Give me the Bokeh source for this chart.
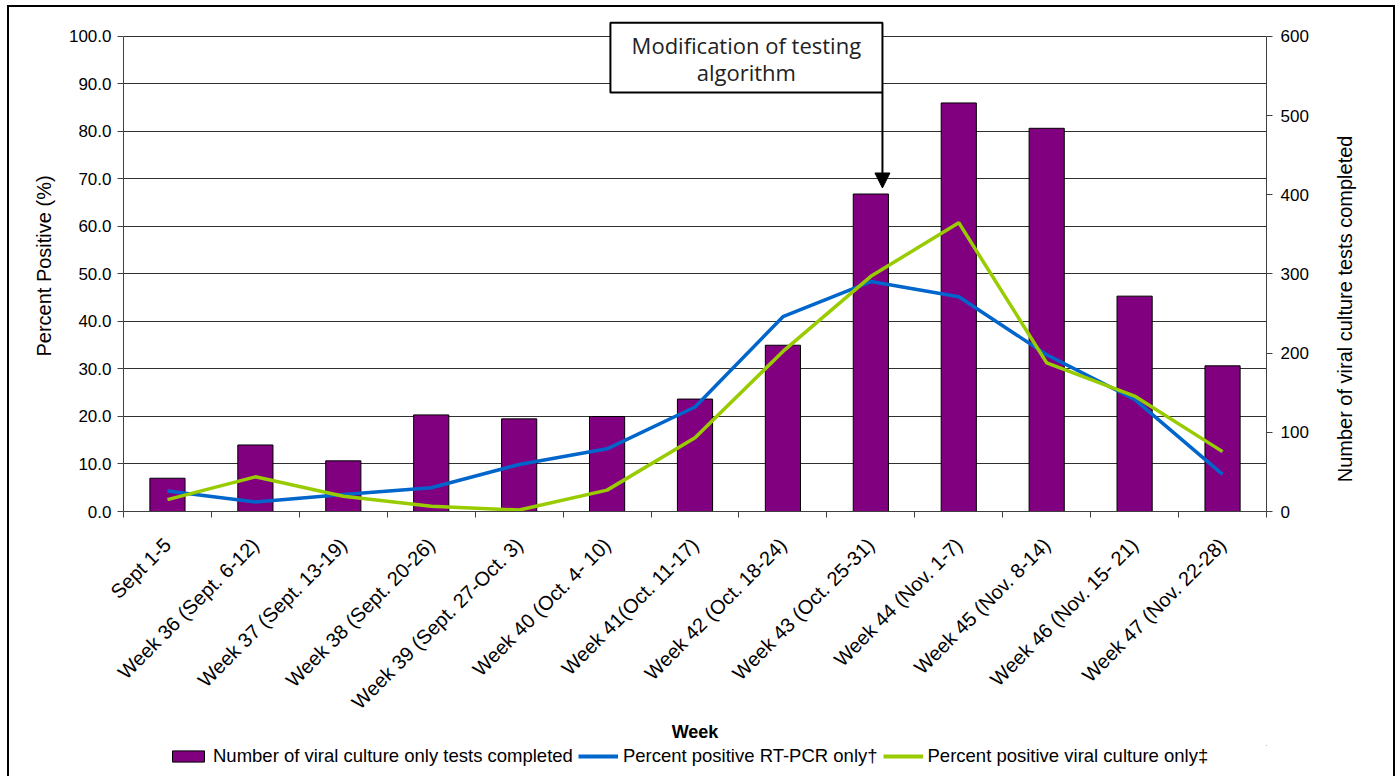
import math
from bokeh.plotting import figure
from bokeh.layouts import column, row
from bokeh.models import (Range1d, LinearAxis, FixedTicker, NumeralTickFormatter,
                          Legend, LegendItem, Arrow, NormalHead)
from bokeh.core.properties import value
from bokeh.embed import file_html
from bokeh.resources import INLINE

# Weekly surveillance data
weeks = [
    "Sept 1-5",
    "Week 36 (Sept. 6-12)",
    "Week 37 (Sept. 13-19)",
    "Week 38 (Sept. 20-26)",
    "Week 39 (Sept. 27-Oct. 3)",
    "Week 40 (Oct. 4- 10)",
    "Week 41(Oct. 11-17)",
    "Week 42 (Oct. 18-24)",
    "Week 43 (Oct. 25-31)",
    "Week 44 (Nov. 1-7)",
    "Week 45 (Nov. 8-14)",
    "Week 46 (Nov. 15- 21)",
    "Week 47 (Nov. 22-28)",
]
culture_tests = [42, 84, 64, 122, 117, 120, 142, 210, 401, 516, 484, 272, 184]
pct_rtpcr = [4.3, 2.0, 3.6, 5.0, 9.9, 13.2, 22.0, 41.0, 48.4, 45.2, 33.0, 23.6, 7.8]
pct_culture = [2.5, 7.3, 3.2, 1.1, 0.3, 4.5, 15.5, 33.7, 49.5, 60.8, 31.3, 24.3, 12.6]

pct_ticks = list(range(0, 101, 10))
count_ticks = list(range(0, 601, 100))

FONT = "Liberation Sans"
AXIS_COLOR = "#404040"
PURPLE, BLUE, GREEN = "#800080", "#0066CC", "#99CC00"

MAIN_W, SIDE_W, MAIN_H = 1314, 70, 738
FRAME_H = 492

xs = list(range(len(weeks)))
bounds_x = [i - 0.5 for i in range(len(weeks) + 1)]

p = figure(width=MAIN_W, height=MAIN_H,
           x_range=Range1d(-0.5, len(weeks) - 0.5),
           y_range=Range1d(0, 103.36),
           output_backend="svg", toolbar_location=None,
           min_border_left=114, min_border_right=57,
           min_border_top=13, min_border_bottom=233,
           outline_line_color=None,
           background_fill_color="white", border_fill_color="white")

p.extra_y_ranges = {"count": Range1d(0, 620.16)}

# Bottom axis: labels at category centres, tick marks between categories
xa = p.xaxis[0]
xa.ticker = FixedTicker(ticks=xs, minor_ticks=bounds_x)
xa.major_label_overrides = {i: w for i, w in zip(xs, weeks)}
xa.major_label_orientation = math.pi / 4
xa.major_label_text_font = FONT
xa.major_label_text_font_size = "20px"
xa.major_label_text_color = "black"
xa.major_label_standoff = 24
xa.major_tick_line_color = None
xa.minor_tick_in = 0
xa.minor_tick_out = 6
xa.minor_tick_line_color = AXIS_COLOR
xa.axis_line_color = AXIS_COLOR
xa.axis_label = "Week"
xa.axis_label_text_font = FONT
xa.axis_label_text_font_size = "18px"
xa.axis_label_text_font_style = "bold"
xa.axis_label_text_color = "black"
xa.axis_label_standoff = -2

# Left axis: percent positive
ya = p.yaxis[0]
ya.ticker = FixedTicker(ticks=pct_ticks)
ya.formatter = NumeralTickFormatter(format="0.0")
ya.bounds = (0, 100)
ya.major_label_text_font = FONT
ya.major_label_text_font_size = "17px"
ya.major_label_text_color = "black"
ya.major_tick_in = 0
ya.major_tick_out = 6
ya.major_label_standoff = 6
ya.minor_tick_line_color = None
ya.axis_line_color = AXIS_COLOR
ya.major_tick_line_color = AXIS_COLOR
ya.axis_label = "Percent Positive (%)"
ya.axis_label_text_font = FONT
ya.axis_label_text_font_size = "20px"
ya.axis_label_text_font_style = "normal"
ya.axis_label_text_color = "black"
ya.axis_label_standoff = 11

# Right axis: number of tests (its title is drawn in the side strip)
ra = LinearAxis(y_range_name="count", ticker=FixedTicker(ticks=count_ticks),
                bounds=(0, 600))
ra.major_label_text_font = FONT
ra.major_label_text_font_size = "17px"
ra.major_label_text_color = "black"
ra.major_tick_in = 0
ra.major_tick_out = 6
ra.major_label_standoff = 8
ra.minor_tick_line_color = None
ra.axis_line_color = AXIS_COLOR
ra.major_tick_line_color = AXIS_COLOR
p.add_layout(ra, "right")

p.xgrid.visible = False
p.ygrid.ticker = FixedTicker(ticks=pct_ticks)
p.ygrid.bounds = (0, 100)
p.ygrid.grid_line_color = "#303030"
p.ygrid.grid_line_width = 1

p.vbar(x=xs, top=culture_tests, width=0.4, bottom=0, y_range_name="count",
       fill_color=PURPLE, line_color="black", line_width=1)
p.line(xs, pct_rtpcr, line_color=BLUE, line_width=3.5)
p.line(xs, pct_culture, line_color=GREEN, line_width=3.5)

# Callout box with arrow pointing at the week the algorithm changed
p.quad(left=5.038, right=8.132, bottom=88.2, top=102.9,
       fill_color="white", line_color="black", line_width=2)
p.text(x=[6.584, 6.584], y=[98.1, 92.6],
       text=["Modification of testing", "algorithm"],
       text_font=value("Open Sans"), text_font_size="22px",
       text_color="#222222", text_align="center", text_baseline="middle")
p.add_layout(Arrow(end=NormalHead(size=15, fill_color="black", line_color="black"),
                   x_start=8.132, y_start=88.2, x_end=8.132, y_end=68.1,
                   line_color="black", line_width=2))

# Side strip carrying the right-hand axis title, reading upwards
# (its frame lines up with the main frame, so y runs in frame pixels)
side = figure(width=SIDE_W, height=MAIN_H,
              x_range=Range1d(0, SIDE_W), y_range=Range1d(0, FRAME_H),
              output_backend="svg", toolbar_location=None,
              min_border=0, outline_line_color=None,
              background_fill_color="white", border_fill_color="white")
side.axis.visible = False
side.grid.visible = False
side.text(x=[21], y=[203], text=["Number of viral culture tests completed"],
          angle=math.pi / 2, text_font=value(FONT), text_font_size="20px",
          text_color="black", text_align="center", text_baseline="middle")

# Legend strip underneath the chart; its sample glyphs sit outside the visible range
lg = figure(width=MAIN_W + SIDE_W, height=47, x_range=Range1d(0, 1), y_range=Range1d(0, 1),
            output_backend="svg", toolbar_location=None,
            min_border_left=114, min_border_right=127,
            min_border_top=0, min_border_bottom=0, outline_line_color=None,
            background_fill_color="white", border_fill_color="white")
lg.axis.visible = False
lg.grid.visible = False
sw_bar = lg.vbar(x=[5], top=[6], bottom=[5], width=0.1,
                 fill_color=PURPLE, line_color="black", line_width=1)
sw_l1 = lg.line(x=[5, 6], y=[5, 5], line_color=BLUE, line_width=4)
sw_l2 = lg.line(x=[5, 6], y=[5, 5], line_color=GREEN, line_width=4)
legend = Legend(items=[
    LegendItem(label="Number of viral culture only tests completed", renderers=[sw_bar]),
    LegendItem(label="Percent positive RT-PCR only\u2020", renderers=[sw_l1]),
    LegendItem(label="Percent positive viral culture only\u2021", renderers=[sw_l2]),
], orientation="horizontal", location=(45, 25),
    glyph_width=40, glyph_height=14, label_standoff=5, spacing=5,
    padding=0, margin=0, border_line_color=None, background_fill_alpha=0,
    label_text_font=FONT, label_text_font_size="18.5px", label_text_color="black")
lg.add_layout(legend, "center")

page = column(row(p, side, spacing=0), lg, spacing=0, margin=(5, 0, 0, 7),
              styles={"border": "2px solid black"})

open("out.html", "w").write(file_html(page, INLINE))
